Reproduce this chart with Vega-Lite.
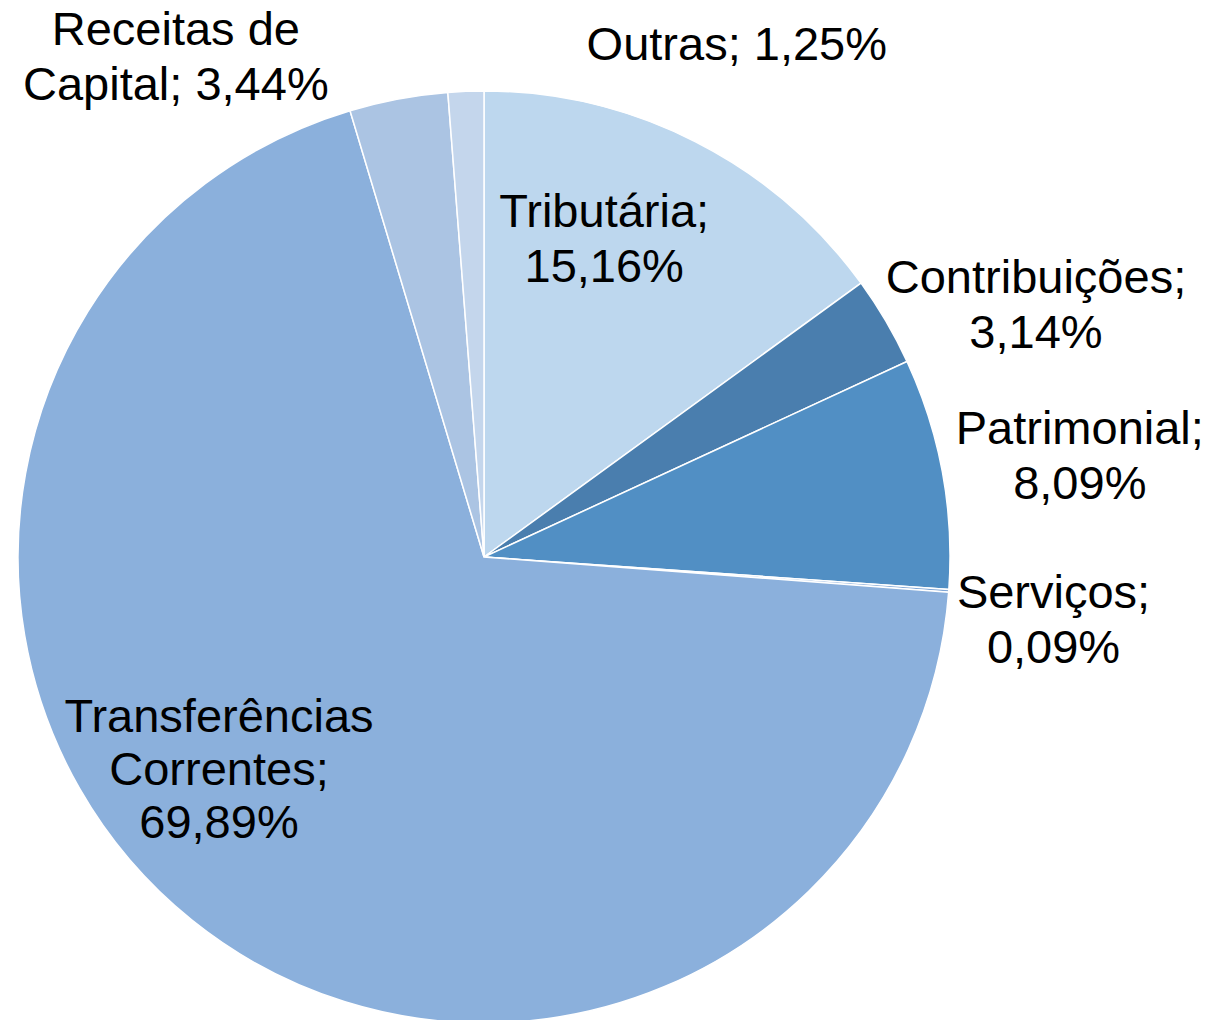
{
  "$schema": "https://vega.github.io/schema/vega-lite/v6.json",
  "width": 968,
  "height": 926,
  "autosize": {"type": "none"},
  "padding": {"left": 0, "top": 94, "right": 247, "bottom": 0},
  "background": "white",
  "view": {"stroke": null},
  "config": {
    "text": {"align": "center", "baseline": "alphabetic", "lineBreak": "\n", "lineHeight": 55, "font": "Liberation Sans", "fontSize": 47, "color": "black"}
  },
  "data": {
    "values": [
      {"categoria": "Tributária", "ordem": 1, "pct": 15.16, "rotulo": "Tributária;\n15,16%"},
      {"categoria": "Contribuições", "ordem": 2, "pct": 3.14, "rotulo": "Contribuições;\n3,14%"},
      {"categoria": "Patrimonial", "ordem": 3, "pct": 8.09, "rotulo": "Patrimonial;\n8,09%"},
      {"categoria": "Serviços", "ordem": 4, "pct": 0.09, "rotulo": "Serviços;\n0,09%"},
      {"categoria": "Transferências Correntes", "ordem": 5, "pct": 69.89, "rotulo": "Transferências\nCorrentes;\n69,89%"},
      {"categoria": "Receitas de Capital", "ordem": 6, "pct": 3.44, "rotulo": "Receitas de\nCapital; 3,44%"},
      {"categoria": "Outras", "ordem": 7, "pct": 1.25, "rotulo": "Outras; 1,25%"}
    ]
  },
  "encoding": {
    "theta": {"field": "pct", "type": "quantitative", "stack": true},
    "order": {"field": "ordem", "type": "quantitative", "sort": "ascending"}
  },
  "layer": [
    {
      "mark": {"type": "arc", "outerRadius": 466, "stroke": "white", "strokeWidth": 1.5},
      "encoding": {
        "color": {
          "field": "categoria",
          "type": "nominal",
          "legend": null,
          "scale": {
            "domain": ["Tributária", "Contribuições", "Patrimonial", "Serviços", "Transferências Correntes", "Receitas de Capital", "Outras"],
            "range": ["#BDD7EE", "#4A7EAE", "#518FC4", "#7FA6D6", "#8BB0DC", "#ABC4E3", "#C4D6EC"]
          }
        }
      }
    },
    {
      "mark": {"type": "text", "radius": 300, "dx": -16, "dy": -63},
      "encoding": {"text": {"condition": {"test": "datum.categoria === 'Tributária'", "field": "rotulo"}, "value": ""}}
    },
    {
      "mark": {"type": "text", "radius": 560, "dx": 69, "dy": 19},
      "encoding": {"text": {"condition": {"test": "datum.categoria === 'Contribuições'", "field": "rotulo"}, "value": ""}}
    },
    {
      "mark": {"type": "text", "radius": 560, "dx": 45, "dy": -12},
      "encoding": {"text": {"condition": {"test": "datum.categoria === 'Patrimonial'", "field": "rotulo"}, "value": ""}}
    },
    {
      "mark": {"type": "text", "radius": 560, "dx": 11, "dy": 10},
      "encoding": {"text": {"condition": {"test": "datum.categoria === 'Serviços'", "field": "rotulo"}, "value": ""}}
    },
    {
      "mark": {"type": "text", "radius": 300, "dx": -77, "dy": -59, "lineHeight": 53},
      "encoding": {"text": {"condition": {"test": "datum.categoria === 'Transferências Correntes'", "field": "rotulo"}, "value": ""}}
    },
    {
      "mark": {"type": "text", "radius": 540, "dx": -209, "dy": 19},
      "encoding": {"text": {"condition": {"test": "datum.categoria === 'Receitas de Capital'", "field": "rotulo"}, "value": ""}}
    },
    {
      "mark": {"type": "text", "radius": 520, "dx": 273, "dy": 23},
      "encoding": {"text": {"condition": {"test": "datum.categoria === 'Outras'", "field": "rotulo"}, "value": ""}}
    }
  ]
}
